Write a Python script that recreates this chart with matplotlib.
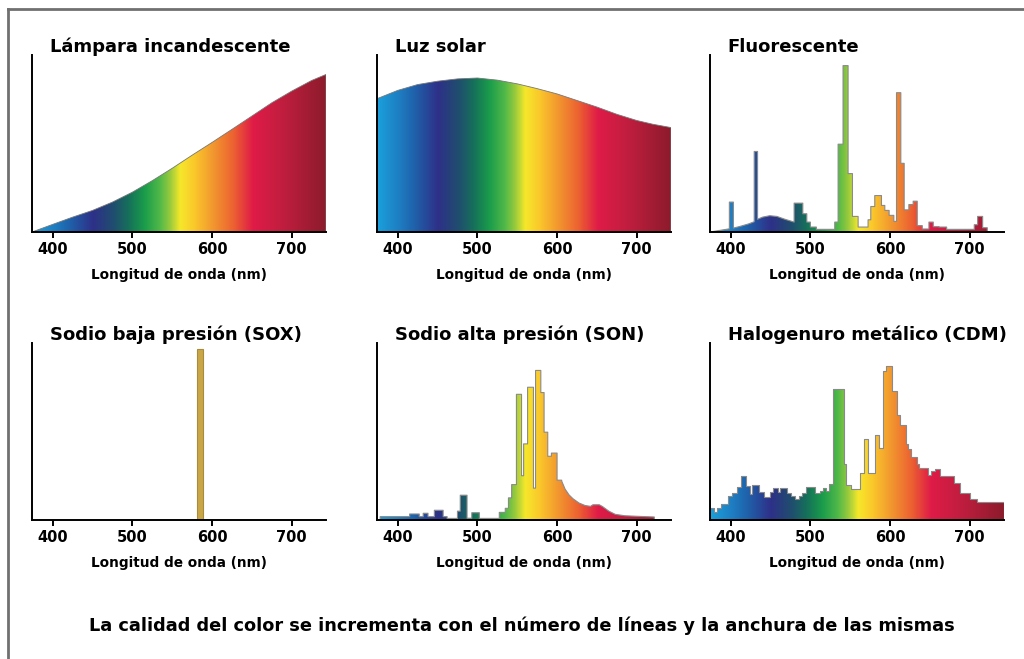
import numpy as np
import matplotlib
matplotlib.use("Agg")
import matplotlib.pyplot as plt
from matplotlib.colors import LinearSegmentedColormap
from matplotlib.patches import Polygon
from matplotlib.lines import Line2D

plt.rcParams['font.family'] = ['DejaVu Sans']
plt.rcParams['font.weight'] = 'bold'

# --- data (wavelength in nm, relative intensity 0-100) ---
titles = ['Lámpara incandescente', 'Luz solar', 'Fluorescente',
          'Sodio baja presión (SOX)', 'Sodio alta presión (SON)',
          'Halogenuro metálico (CDM)']
xlabel = 'Longitud de onda (nm)'
footer = 'La calidad del color se incrementa con el número de líneas y la anchura de las mismas'
tick_nm = [400, 500, 600, 700]

inc_wl = [374, 400, 425, 450, 475, 500, 525, 550, 575, 600, 625, 650, 675, 700, 725, 743]
inc_val = [0, 4.3, 8.4, 12.2, 16.9, 22.5, 29, 36, 43.4, 50.6, 58, 65.5, 73, 79.6, 85.6, 89]

sun_wl = [374, 400, 425, 450, 475, 500, 525, 550, 575, 600, 625, 650, 675, 700, 720, 743]
sun_val = [75.3, 80, 83.3, 85.2, 86.5, 87, 85.8, 83.7, 81, 78, 74.3, 70.6, 66.5, 63, 60.9, 59]

fluo_smooth_wl = [374, 385, 398.3, 398.3, 403.4, 403.4, 412, 422, 429.5, 429.5, 433.7, 433.7,
                  440, 449, 458, 468, 479.6]
fluo_smooth_val = [0, 0.8, 1.8, 16.9, 16.9, 2.2, 3.2, 4.5, 5.8, 45.5, 45.5, 7.2,
                   8.4, 9.2, 8.8, 7.2, 5.6]
fluo_edges = [479.6, 490.5, 495.5, 500, 507.5, 530.6, 534.8, 541, 547.3, 552.8, 559.9, 572.4,
              575.8, 580.8, 589.2, 593.4, 598.8, 604.7, 608.1, 613.5, 617.7, 623.6, 629, 634.1,
              640.4, 648.8, 654.2, 661.3, 671, 705.7, 709.9, 716.2, 722]
fluo_heights = [16.3, 10.3, 5.6, 2.8, 1.5, 5.6, 49.6, 94, 33, 8.8, 2.8, 6.9,
                14.4, 20.6, 15, 12.2, 9.4, 6, 78.7, 38.8, 12.5, 15.5, 17.4, 3.6,
                1.7, 5.6, 3, 2.8, 1.5, 4.1, 8.8, 2.4]

sox_center = 585
sox_width = 6.8
sox_height = 96.5

son_edges = [378, 415, 427, 432, 438, 446, 457, 462, 475, 478.5, 487, 493, 502.5, 527.5, 535,
             539, 543, 549, 555.4, 558, 563, 570.4, 573, 579.6, 583.7, 588.3, 592.9, 600, 605.8]
son_heights = [1.9, 3.4, 1.9, 3.8, 1.9, 5.5, 1.9, 0.9, 5, 14, 1.0, 4.1, 0.9, 4.3,
               6.6, 12.5, 20, 71, 25, 43, 75, 18, 84.5, 72, 49.6, 36, 37.8, 22.5]
son_tail_wl = [605.8, 610, 615, 620, 627.5, 635, 642, 645, 653, 657, 665, 673, 685, 700, 722]
son_tail_val = [22, 17.5, 14.2, 12, 9.6, 8.2, 7.7, 8.6, 8.6, 7.6, 5, 3.2, 2.4, 2.1, 1.7]

cdm_edges = [374, 379, 382.4, 387.5, 397, 402, 407.5, 412.5, 419, 424, 427, 435, 442, 449, 453,
             459, 462, 471, 476, 481, 486, 490, 494, 506, 512, 515.8, 519.6, 523.7, 529, 541.7,
             544.6, 550.8, 561.7, 566.7, 571.7, 581.3, 586.3, 591.7, 594.6, 602, 608.3, 612.5,
             619.6, 623, 626.3, 633.3, 636.3, 648, 651.3, 657, 662.5, 680, 688.3, 700.8, 709.6, 743]
cdm_heights = [6.6, 4.7, 6.6, 9, 13.6, 15, 18.8, 24.9, 19.2, 14.5, 19.6, 15.6, 13.2, 15.6,
               17.9, 15.6, 17.9, 15, 13.6, 11.7, 13.6, 15, 18.5, 15, 16.5, 18, 16.5, 20.2,
               74, 31.5, 19.9, 17.4, 26.8, 45.9, 26.4, 48, 40.4, 83.9, 87, 73, 59.6, 53.6,
               42.7, 39.9, 35.8, 31.8, 29.2, 25.5, 27.7, 29, 24.9, 20.8, 15.5, 11.8, 10.3]

# spectrum colours
spec_nm = [374, 400, 420, 450, 477, 495, 515, 535, 548, 560, 578, 600, 627, 652, 690, 743]
spec_hex = ['#1aa0dc', '#1e7fc3', '#1f62ab', '#2e3088', '#1f4f6e', '#16705a', '#1a9c4b',
            '#52b948', '#9ccb3c', '#f5e82a', '#fbc82b', '#f29a2e', '#ec6231', '#df1b47',
            '#c01e3e', '#8d1b2b']

XMIN, XMAX = 374, 743
cmap = LinearSegmentedColormap.from_list(
    'spec', [((n - XMIN) / (XMAX - XMIN), c) for n, c in zip(spec_nm, spec_hex)])


def steps(edges, heights):
    xs, ys = [], []
    for i, h in enumerate(heights):
        xs += [edges[i], edges[i + 1]]
        ys += [h, h]
    return xs, ys


def draw_spectrum(ax, xs, ys, edge='#8a8a8a', lw=0.8):
    verts = [(xs[0], 0)] + list(zip(xs, ys)) + [(xs[-1], 0)]
    poly = Polygon(verts, closed=True, facecolor='none', edgecolor='none')
    ax.add_patch(poly)
    grad = np.linspace(XMIN, XMAX, 800)[None, :]
    im = ax.imshow(grad, extent=[XMIN, XMAX, 0, 100], cmap=cmap, vmin=XMIN, vmax=XMAX,
                   aspect='auto', origin='lower', interpolation='bilinear', zorder=1)
    im.set_clip_path(poly)
    ax.plot([xs[0]] + list(xs) + [xs[-1]], [0] + list(ys) + [0], color=edge, lw=lw, zorder=2)


fig = plt.figure(figsize=(10.24, 6.59), dpi=100)

lefts = [32, 377, 710]
bottoms = [232, 520]
axes = []
for r in range(2):
    for c in range(3):
        ax = fig.add_axes([lefts[c] / 1024, 1 - bottoms[r] / 659, 294 / 1024, 177 / 659])
        axes.append(ax)

draw_spectrum(axes[0], inc_wl, inc_val, edge='#777777', lw=0.6)
draw_spectrum(axes[1], sun_wl, sun_val, edge='#777777', lw=0.6)

fx, fy = steps(fluo_edges, fluo_heights)
draw_spectrum(axes[2], fluo_smooth_wl + fx, fluo_smooth_val + fy)

axes[3].bar([sox_center], [sox_height], width=sox_width, color='#c9a748',
            edgecolor='#a98c3a', linewidth=0.8, zorder=2)

sx, sy = steps(son_edges, son_heights)
draw_spectrum(axes[4], sx + son_tail_wl, sy + son_tail_val)

cx, cy = steps(cdm_edges, cdm_heights)
draw_spectrum(axes[5], cx, cy)

for ax, title in zip(axes, titles):
    ax.set_xlim(XMIN, XMAX)
    ax.set_ylim(0, 100)
    for s in ['top', 'right']:
        ax.spines[s].set_visible(False)
    for s in ['left', 'bottom']:
        ax.spines[s].set_linewidth(1.4)
        ax.spines[s].set_zorder(5)
    ax.set_yticks([])
    ax.set_xticks(tick_nm)
    ax.tick_params(axis='x', direction='out', length=4, width=1.4, pad=3, labelsize=10.5)
    for lab in ax.get_xticklabels():
        lab.set_fontweight('bold')
    ax.set_xlabel(xlabel, fontsize=9.8, fontweight='bold', labelpad=8)
    ax.text(0.06, 1.045, title, transform=ax.transAxes, fontsize=13,
            fontweight='bold', ha='left', va='center')

fig.text(522 / 1024, 1 - 626 / 659, footer, fontsize=12.8, fontweight='bold',
         ha='center', va='center')

# frame around the figure (partly outside the image)
fig.add_artist(Line2D([8 / 1024, 8 / 1024], [0, 1 - 9 / 659], transform=fig.transFigure,
                      color='#707070', lw=2))
fig.add_artist(Line2D([8 / 1024, 1], [1 - 9 / 659, 1 - 9 / 659], transform=fig.transFigure,
                      color='#707070', lw=2))

fig.savefig('out.png', dpi=100)
